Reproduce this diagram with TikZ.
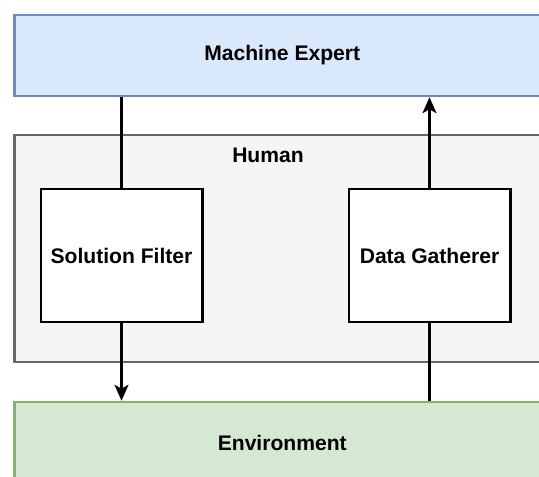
\documentclass[tikz,border=0pt]{standalone}
\usepackage{fontspec}
\setmainfont{Liberation Sans}
\usetikzlibrary{arrows.meta}
\definecolor{expertfill}{HTML}{DAE8FC}
\definecolor{expertline}{HTML}{6C8EBF}
\definecolor{humanfill}{HTML}{F5F5F5}
\definecolor{humanline}{HTML}{666666}
\definecolor{envfill}{HTML}{D5E8D4}
\definecolor{envline}{HTML}{82B366}

\begin{document}
\begin{tikzpicture}[
                    font=\fontsize{12}{14}\selectfont\bfseries,
                    line width=0.05cm,
                    box/.style={draw, rectangle, inner sep=0, minimum width=10.71cm},
                    part/.style={draw=black, fill=white, rectangle, inner sep=0,
                                 minimum width=3.23cm, minimum height=2.66cm},
                    flow/.style={-{Stealth[length=0.32cm, width=0.28cm, inset=0.08cm]}}]
                \path [use as bounding box, clip] (0,0) rectangle (10.78,9.54);

                \node (expert) [box, draw=expertline, fill=expertfill, minimum height=1.62cm] at (5.645,8.43) {Machine Expert};
                \node (human) [box, draw=humanline, fill=humanfill, minimum height=4.54cm] at (5.645,4.57) {};
                \node (humanlbl) at (5.36,6.44) {Human};
                \node (filter) [part] at (2.43,4.43) {Solution Filter};
                \node (gatherer) [part] at (8.59,4.43) {Data Gatherer};
                \node (env) [box, draw=envline, fill=envfill, minimum height=1.64cm] at (5.645,0.68) {Environment};

                \draw (filter.north) -- (filter.north |- expert.south);
                \draw [flow] (gatherer.north) -- (gatherer.north |- expert.south);
                \draw [flow] (filter.south) -- (filter.south |- env.north);
                \draw (gatherer.south) -- (gatherer.south |- env.north);
            \end{tikzpicture}
\end{document}
